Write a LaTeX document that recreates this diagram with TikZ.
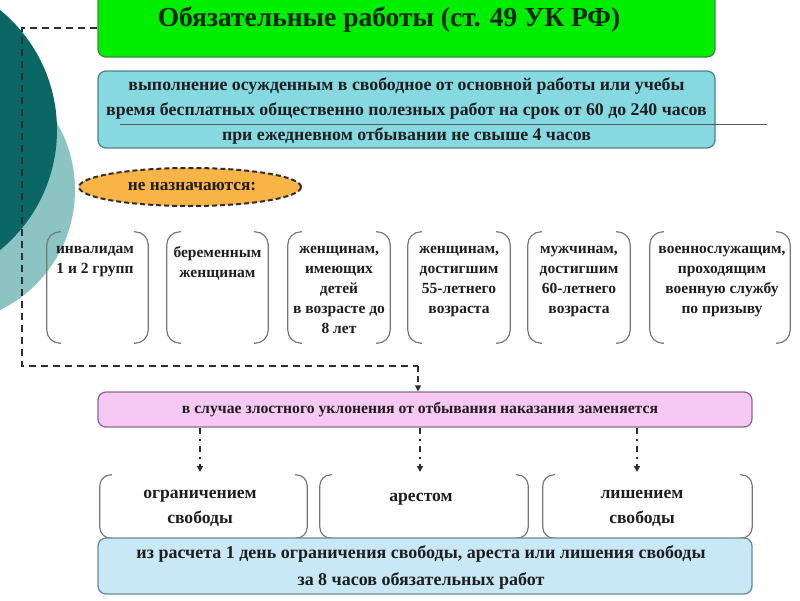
\documentclass[tikz,border=0pt]{standalone}
\usepackage{fontspec}
\setmainfont{Liberation Serif}
\usetikzlibrary{shapes.geometric,arrows.meta}
\definecolor{darkteal}{HTML}{0B6666}
\definecolor{lightteal}{HTML}{8CC3C3}
\definecolor{grfill}{HTML}{00EE00}
\definecolor{grline}{HTML}{3C8A3C}
\definecolor{cyfill}{HTML}{86D9E0}
\definecolor{cyline}{HTML}{4E8486}
\definecolor{orfill}{HTML}{F8B447}
\definecolor{pkfill}{HTML}{F6C8F4}
\definecolor{pkline}{HTML}{8E6A8C}
\definecolor{blfill}{HTML}{C8E8F6}
\definecolor{blline}{HTML}{6A8C9A}
\definecolor{brkc}{HTML}{777777}
\definecolor{txtc}{HTML}{1E1E1E}
\definecolor{dashc}{HTML}{2E2E2E}
\begin{document}
\begin{tikzpicture}[x=1pt,y=-1pt,
  box/.style={draw, rounded corners=8pt, line width=1.3pt, inner sep=0pt, align=center, text=txtc},
  tx/.style={font=\bfseries\fontsize{15.5}{20}\selectfont, text=txtc, align=center, inner sep=0pt},
  frame/.style={inner sep=0pt},
  brk/.style={draw=brkc, line width=1.2pt, rounded corners=13pt},
  dline/.style={draw=dashc, line width=2pt, dash pattern=on 7pt off 5pt},
  ddarrow/.style={draw=dashc, line width=1.6pt, dash pattern=on 6pt off 5pt on 2pt off 5pt, -{Triangle[width=6pt,length=6pt]}},
]
\useasboundingbox (0,0) rectangle (800,600);
\clip (0,0) rectangle (800,600);
% background circles
\fill[lightteal] (-58.5,190) circle[radius=133.5pt];
\fill[darkteal] (-98,130) circle[radius=155pt];

% title
\node[box, draw=grline, fill=grfill, minimum width=617pt, minimum height=72pt] (title) at (406.5,21) {};
\node[inner sep=0pt, font=\bfseries\fontsize{27.5}{30}\selectfont, text=black!85!green] (titletxt) at (389,20) {Обязательные работы (ст. 49 УК РФ)};

% definition
\node[box, draw=cyline, fill=cyfill, minimum width=617pt, minimum height=77pt] (def) at (406.5,109.5) {};
\node[tx, font=\bfseries\fontsize{17.8}{25}\selectfont] (deftxt) at (406.5,111) {выполнение осужденным в свободное от основной работы или учебы\\время бесплатных общественно полезных работ на срок от 60 до 240 часов\\при ежедневном отбывании не свыше 4 часов};
\coordinate (ul1) at (120,124);
\coordinate (ul2) at (767,124);
\draw[draw=black!65, line width=0.9pt] (ul1) -- (ul2);

% ellipse
\node[ellipse, draw=dashc, dash pattern=on 5pt off 3pt, line width=2pt, fill=orfill,
      minimum width=222pt, minimum height=38pt, inner sep=0pt] (nn) at (190,187) {};
\node[inner sep=0pt, font=\bfseries\fontsize{17.3}{20}\selectfont, text=txtc] (nntxt) at (192,187) {не назначаются:};

% bracket groups
\foreach \n/\xa/\xb in {g1/47/148, g2/167/268, g3/288/390, g4/408/510, g5/528/630, g6/650/790}{
  \node[frame, minimum width={\xb-\xa}, minimum height=111pt] (\n) at ({(\xa+\xb)/2},287.5) {};
  \draw[brk] ([xshift=14pt]\n.north west) -- (\n.north west) -- (\n.south west) -- ([xshift=14pt]\n.south west);
  \draw[brk] ([xshift=-14pt]\n.north east) -- (\n.north east) -- (\n.south east) -- ([xshift=-14pt]\n.south east);
}
\node[tx, anchor=north] (t1) at (95,246) {инвалидам\\1 и 2 групп};
\node[tx, anchor=north] (t2) at (217.5,246) {беременным\\женщинам};
\node[tx, anchor=north] (t3) at (339,246) {женщинам,\\имеющих\\детей\\в возрасте до\\8 лет};
\node[tx, anchor=north] (t4) at (459,246) {женщинам,\\достигшим\\55-летнего\\возраста};
\node[tx, anchor=north] (t5) at (579,246) {мужчинам,\\достигшим\\60-летнего\\возраста};
\node[tx, anchor=north] (t6) at (722,246) {военнослужащим,\\проходящим\\военную службу\\по призыву};

% pink
\node[box, draw=pkline, fill=pkfill, minimum width=654pt, minimum height=35pt] (pink) at (425,409.5) {};
\node[inner sep=0pt, font=\bfseries\fontsize{15.7}{20}\selectfont, text=txtc] (pinktxt) at (420,409.5) {в случае злостного уклонения от отбывания наказания заменяется};

% dashed connector
\coordinate (d1) at (22,28);
\coordinate (d2) at (22,366);
\coordinate (d3) at (418,366);
\draw[dline] (title.west |- d1) -- (d1) -- (d2) -- (d3);
\draw[dashc, line width=1.6pt, dash pattern=on 6pt off 4pt, -{Triangle[width=6pt,length=6pt]}] (d3) -- (d3 |- pink.north);

% bottom brackets
\foreach \n/\xa/\xb in {l1/100/307, l2/320/528, l3/543/752}{
  \node[frame, minimum width={\xb-\xa}, minimum height=63pt] (\n) at ({(\xa+\xb)/2},506.5) {};
  \draw[brk, rounded corners=11pt] ([xshift=12pt]\n.north west) -- (\n.north west) -- (\n.south west) -- ([xshift=12pt]\n.south west);
  \draw[brk, rounded corners=11pt] ([xshift=-12pt]\n.north east) -- (\n.north east) -- (\n.south east) -- ([xshift=-12pt]\n.south east);
}
\node[tx, font=\bfseries\fontsize{17.6}{25}\selectfont] (r1) at (200,508) {ограничением\\свободы};
\node[tx, font=\bfseries\fontsize{17.6}{25}\selectfont] (r2) at (421,499) {арестом};
\node[tx, font=\bfseries\fontsize{17.6}{25}\selectfont] (r3) at (642,508) {лишением\\свободы};

\coordinate (a1) at (200,472);
\coordinate (a2) at (420,472);
\coordinate (a3) at (637,472);
\draw[ddarrow] (pink.south -| a1) -- (a1);
\draw[ddarrow] (pink.south -| a2) -- (a2);
\draw[ddarrow] (pink.south -| a3) -- (a3);

% bottom box
\node[box, draw=blline, fill=blfill, minimum width=654pt, minimum height=56pt] (calc) at (425,566) {};
\node[tx, font=\bfseries\fontsize{18}{27}\selectfont] (calctxt) at (421,567) {из расчета 1 день ограничения свободы, ареста или лишения свободы\\за 8 часов обязательных работ};
\end{tikzpicture}
\end{document}
